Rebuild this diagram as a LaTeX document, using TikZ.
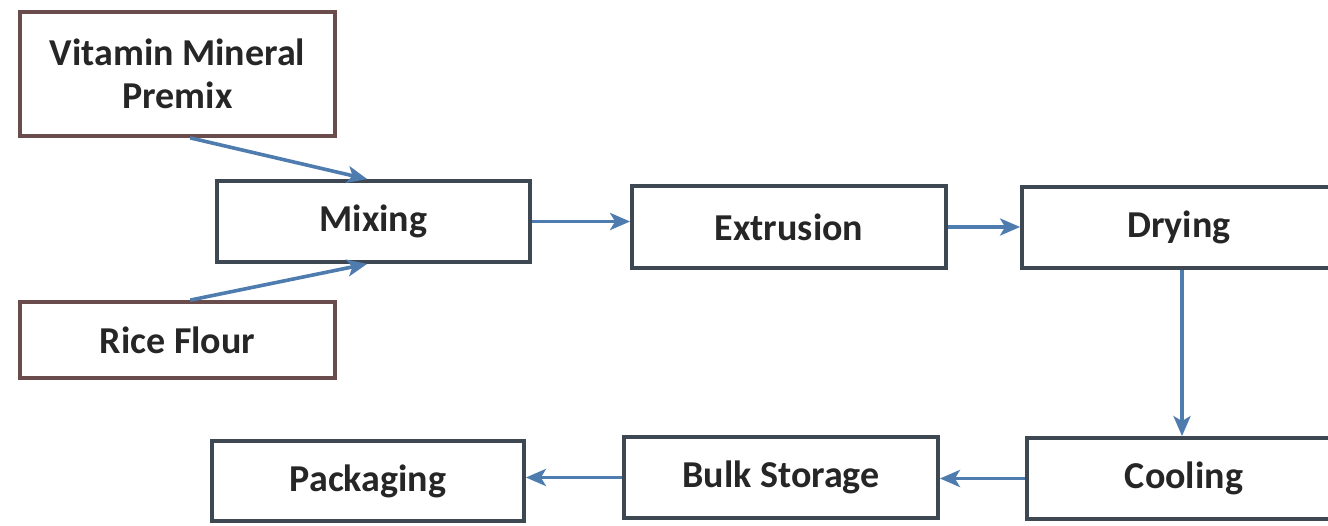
\documentclass[tikz,border=0pt]{standalone}
\usepackage{fontspec}
\setmainfont{Carlito}
\usetikzlibrary{arrows.meta,calc}
\definecolor{boxline}{HTML}{3E4852}
\definecolor{inline}{HTML}{6A4C4C}
\definecolor{arrowc}{HTML}{4F7CAF}
\tikzset{
  stepbox/.style={draw=boxline, line width=3.8pt, fill=white, rectangle,
    inner sep=0pt, align=center, text=black!85,
    font=\fontsize{38}{43}\selectfont\bfseries},
  inbox/.style={stepbox, draw=inline},
  flow/.style={draw=arrowc, line width=3.6pt,
    -{Stealth[length=20pt,width=17pt,inset=5pt]}}
}
\begin{document}
\begin{tikzpicture}[x=1pt,y=-1pt]
\useasboundingbox (0,0) rectangle (1328,526);
\fill[white] (0,0) rectangle (1328,526);
\clip (0,0) rectangle (1328,526);
\node[inbox, minimum width=315pt, minimum height=124pt] (vit) at (177.5,74) {Vitamin Mineral\\Premix};
\node[inbox, minimum width=315pt, minimum height=76pt] (rice) at (177.5,340) {Rice Flour};
\node[stepbox, minimum width=313pt, minimum height=81pt] (mix) at (373.5,221.5) {Mixing};
\node[stepbox, minimum width=314pt, minimum height=82pt] (ext) at (789,227) {Extrusion};
\node[stepbox, minimum width=314pt, minimum height=81pt] (dry) at (1179,227.5) {Drying};
\node[stepbox, minimum width=314pt, minimum height=81pt] (cool) at (1184,478.5) {Cooling};
\node[stepbox, minimum width=314pt, minimum height=81pt] (bulk) at (781,477.5) {Bulk Storage};
\node[stepbox, minimum width=312pt, minimum height=80pt] (pack) at (368,481) {Packaging};
\coordinate (vitout) at ($(vit.south west)!0.54!(vit.south east)$);
\coordinate (riceout) at ($(rice.north west)!0.54!(rice.north east)$);
\coordinate (mixtop) at ($(mix.north west)!0.48!(mix.north east)$);
\coordinate (mixbot) at ($(mix.south west)!0.48!(mix.south east)$);
\coordinate (dryout) at ($(dry.south)+(3,0)$);
\draw[flow] (vitout) -- (mixtop);
\draw[flow] (riceout) -- (mixbot);
\draw[flow] (mix.east) -- (mix.east -| ext.west);
\draw[flow] (ext.east) -- (ext.east -| dry.west);
\draw[flow] (dryout) -- (dryout |- cool.north);
\draw[flow] (cool.west) -- (cool.west -| bulk.east);
\draw[flow] (bulk.west) -- (bulk.west -| pack.east);
\end{tikzpicture}
\end{document}
